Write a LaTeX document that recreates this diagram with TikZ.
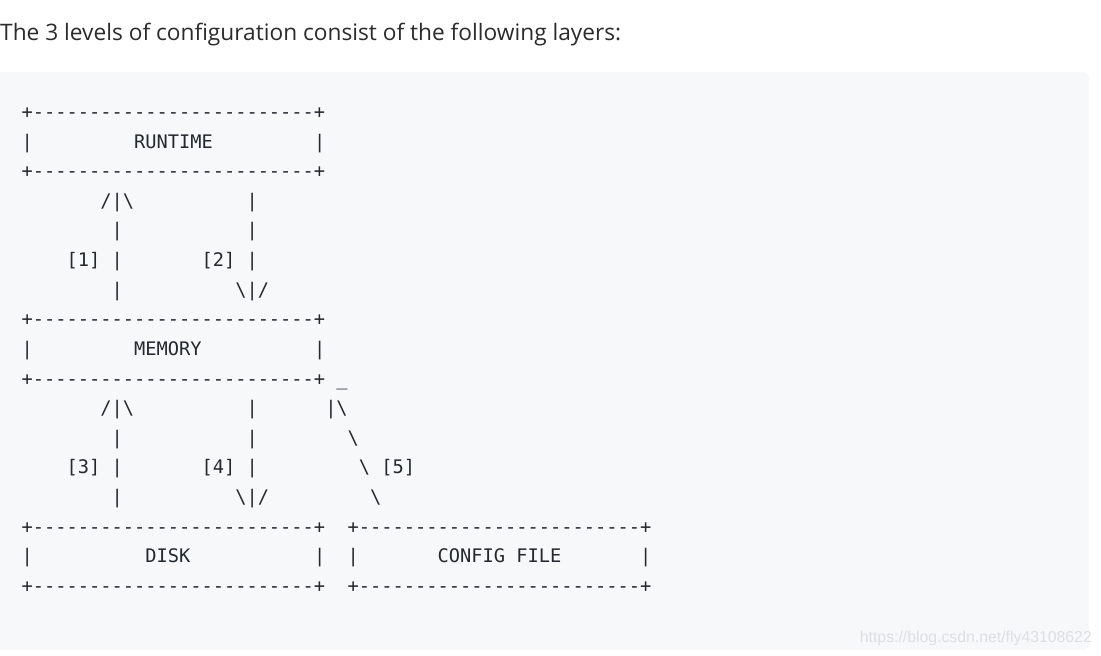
\documentclass[tikz,border=0pt]{standalone}
\usepackage{fontspec}
\setmainfont{Open Sans}
\setsansfont{Liberation Sans}
\setmonofont{DejaVu Sans Mono}

\definecolor{codebg}{HTML}{F6F8FA}
\definecolor{codetext}{HTML}{24292E}
\definecolor{headtext}{HTML}{2B2B2B}
\definecolor{markgray}{HTML}{DCDFE3}

\newcommand{\asciifont}{\ttfamily\fontsize{18.68}{22}\selectfont}
\newcommand{\bsl}{\textbackslash}
\newcommand{\dashrow}{-------------------------}

\tikzstyle{ascii} = [anchor=base west, inner sep=0pt, font=\asciifont, text=codetext]

\begin{document}
\begin{tikzpicture}[x=1pt, y=-1pt]
        \useasboundingbox (0,0) rectangle (1101,656);

        % Heading
        \node[anchor=base west, inner sep=0pt, font=\fontsize{22.7}{27}\selectfont, text=headtext] (heading) at (0,40) {The 3 levels of configuration consist of the following layers:};

        % Code block
        \fill[codebg, rounded corners=6pt] (-10,72) rectangle (1089,650);

        % RUNTIME layer
        \node[ascii] (runtimeTop) at (21.4,118.4) {+\dashrow+};
        \node[ascii] (runtime) at (21.4,148) {|~~~~~~~~~RUNTIME~~~~~~~~~|};
        \node[ascii] (runtimeBot) at (21.4,177.65) {+\dashrow+};

        % [1] and [2]
        \node[ascii] (linkA) at (21.4,207.3) {~~~~~~~/|\bsl~~~~~~~~~~|};
        \node[ascii] (linkB) at (21.4,236.9) {~~~~~~~~|~~~~~~~~~~~|};
        \node[ascii] (linkC) at (21.4,266.5) {~~~~[1]~|~~~~~~~[2]~|};
        \node[ascii] (linkD) at (21.4,296.2) {~~~~~~~~|~~~~~~~~~~\bsl{}|/};

        % MEMORY layer
        \node[ascii] (memoryTop) at (21.4,325.8) {+\dashrow+};
        \node[ascii] (memory) at (21.4,355.4) {|~~~~~~~~~MEMORY~~~~~~~~~~|};
        \node[ascii] (memoryBot) at (21.4,385) {+\dashrow+~\_};

        % [3], [4] and [5]
        \node[ascii] (linkE) at (21.4,414.7) {~~~~~~~/|\bsl~~~~~~~~~~|~~~~~~|\bsl};
        \node[ascii] (linkF) at (21.4,444.3) {~~~~~~~~|~~~~~~~~~~~|~~~~~~~~\bsl};
        \node[ascii] (linkG) at (21.4,473.9) {~~~~[3]~|~~~~~~~[4]~|~~~~~~~~~\bsl~[5]};
        \node[ascii] (linkH) at (21.4,503.5) {~~~~~~~~|~~~~~~~~~~\bsl{}|/~~~~~~~~~\bsl};

        % DISK and CONFIG FILE layers
        \node[ascii] (diskTop) at (21.4,533.2) {+\dashrow+~~+\dashrow+};
        \node[ascii] (disk) at (21.4,562.8) {|~~~~~~~~~~DISK~~~~~~~~~~~|~~|~~~~~~~CONFIG~FILE~~~~~~~|};
        \node[ascii] (diskBot) at (21.4,592.4) {+\dashrow+~~+\dashrow+};

        % Watermark
        \node[anchor=base east, inner sep=0pt, font=\sffamily\fontsize{15.8}{18}\selectfont, text=markgray] (watermark) at (1092,642) {https://blog.csdn.net/fly43108622};

\end{tikzpicture}
\end{document}
